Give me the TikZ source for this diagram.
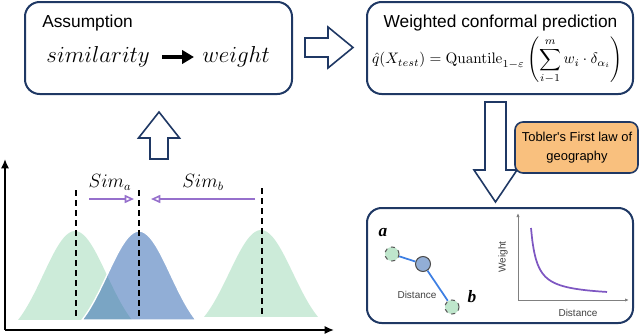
\documentclass[tikz,border=0pt]{standalone}
\usepackage[no-math]{fontspec}
\usepackage{amsmath}
\usepackage{graphicx}
\newfontfamily\arialf{Liberation Sans}
\newfontfamily\timesf{Liberation Serif}
\usetikzlibrary{arrows.meta}
\definecolor{navy}{HTML}{1F3864}
\definecolor{mint}{HTML}{CCEBD9}
\definecolor{bluehump}{HTML}{376CB4}
\definecolor{purp}{HTML}{9670CC}
\definecolor{curvep}{HTML}{7E57C2}
\definecolor{linkblue}{HTML}{3D7FE3}
\definecolor{nodeblue}{HTML}{92AED6}
\definecolor{nodegreen}{HTML}{BFE6CC}
\definecolor{tobler}{HTML}{F9C07E}
\definecolor{labgray}{HTML}{404040}
\begin{document}
\begin{tikzpicture}[x=0.75pt,y=-0.75pt,
  panel/.style={draw=navy, line width=1.5pt, rounded corners=11pt, inner sep=0pt},
  blockarrow/.style={draw=navy, fill=white, line width=1.2pt, line join=miter},
  titletext/.style={font=\arialf\fontsize{13}{15}\selectfont, inner sep=0pt},
  smalltext/.style={font=\arialf\fontsize{7.5}{9}\selectfont, text=labgray, inner sep=0pt},
  mathbig/.style={font=\fontsize{17}{20}\selectfont, inner sep=0pt},
  simtext/.style={font=\fontsize{13.5}{16}\selectfont, inner sep=0pt},
  vline/.style={draw=black, line width=1.5pt, dash pattern=on 4.5pt off 3pt},
  simarrow/.style={draw=purp, line width=1.2pt, -{Triangle[open, length=7pt, width=6pt]}},
  axis/.style={draw=black, line width=1.2pt, -{Latex[length=7pt, width=6pt]}},
  smallaxis/.style={draw=gray, line width=0.6pt, -{Latex[length=3pt, width=2.5pt]}},
  dot/.style={circle, inner sep=0pt, minimum size=10.5pt, line width=0.8pt},
  ablabel/.style={font=\timesf\bfseries\itshape\fontsize{13}{15}\selectfont, inner sep=0pt}
]
\useasboundingbox (0,0) rectangle (640,336);

% ---- top boxes ----
\node[panel, minimum width=200.25pt, minimum height=69pt] (assump) at (158.5,48) {};
\node[titletext, anchor=base west] (assumptitle) at (42,27) {Assumption};
\node[mathbig, anchor=base east] (simw) at (150,62) {$similarity$};
\node[mathbig, anchor=base west] (weightw) at (202,62) {$weight$};
\coordinate (sa) at (162,57);
\coordinate (sb) at (194,57);
\draw[line width=3pt, -{Triangle[length=9pt, width=10pt]}] (sa) -- (sb);

\node[panel, minimum width=199.5pt, minimum height=69pt] (wcp) at (500,48) {};
\node[titletext, anchor=base] (wcptitle) at (500.5,27) {Weighted conformal prediction};
\node[inner sep=0pt] (formula) at (497.5,61) {\resizebox{188pt}{!}{$\displaystyle \hat{q}(X_{test}) = \mathrm{Quantile}_{1-\varepsilon}\left(\sum_{i-1}^{m} w_i\cdot\delta_{\alpha_i}\right)$}};

% ---- block arrows ----
\draw[blockarrow] (305,38) -- (328,38) -- (328,27) -- (353,47.5) -- (328,68) -- (328,57) -- (305,57) -- cycle;
\draw[blockarrow] (150,159) -- (150,138) -- (138.5,138) -- (159,112) -- (179.5,138) -- (168,138) -- (168,159) -- cycle;
\draw[blockarrow] (485,102) -- (506,102) -- (506,170) -- (517,170) -- (495.5,202) -- (474,170) -- (485,170) -- cycle;

% ---- Tobler box ----
\node[draw=navy, fill=tobler, line width=1.2pt, rounded corners=6pt, minimum width=92.25pt, minimum height=38.25pt, inner sep=0pt] (toblerbox) at (576.5,147.5) {};
\node[font=\arialf\fontsize{9.7}{14.3}\selectfont, align=center, inner sep=0pt] (toblertext) at (577,147.5) {Tobler's First law of\\geography};

% ---- plot bottom-left ----
\fill[mint] plot[domain=-1:1, samples=41, smooth] ({75+57*\x},{320-89*(exp(-1.6*\x*\x)-0.2019)/0.7981}) -- cycle;
\fill[mint] plot[domain=-1:1, samples=41, smooth] ({261+57*\x},{317-87*(exp(-1.6*\x*\x)-0.2019)/0.7981}) -- cycle;
\filldraw[fill=bluehump, fill opacity=0.55, draw=white, line width=1pt] plot[domain=-1:1, samples=41, smooth] ({139+57*\x},{320-89*(exp(-1.6*\x*\x)-0.2019)/0.7981}) -- cycle;

\coordinate (d1t) at (76,190); \coordinate (d1b) at (76,320);
\coordinate (d2t) at (139,190); \coordinate (d2b) at (139,320);
\coordinate (d3t) at (262,188); \coordinate (d3b) at (262,316);
\draw[vline] (d1t) -- (d1b);
\draw[vline] (d2t) -- (d2b);
\draw[vline] (d3t) -- (d3b);

\coordinate (O) at (5,330);
\coordinate (Ytop) at (5,159);
\coordinate (Xend) at (334,330);
\draw[axis] (O) -- (Ytop);
\draw[axis] (O) -- (Xend);

\coordinate (saS) at (89,199); \coordinate (saE) at (134,199);
\coordinate (sbS) at (255,199); \coordinate (sbE) at (151,199);
\draw[simarrow] (saS) -- (saE);
\draw[simarrow] (sbS) -- (sbE);
\node[simtext] (simalabel) at (110,182) {$Sim_a$};
\node[simtext] (simblabel) at (203,182) {$Sim_b$};

% ---- bottom-right box ----
\node[panel, minimum width=199.5pt, minimum height=86.25pt] (tobpanel) at (500,265.5) {};
\node[dot, draw=gray!70!black, dashed, fill=nodegreen] (na) at (392,254) {};
\node[dot, draw=gray!60!black, fill=nodeblue, minimum size=11.25pt] (nc) at (423,264) {};
\node[dot, draw=gray!70!black, dashed, fill=nodegreen] (nb) at (452,307) {};
\draw[linkblue, line width=1.3pt] (na) -- (nc) -- (nb);
\node[ablabel] (alabel) at (383,233) {a};
\node[ablabel] (blabel) at (472,297) {b};
\node[smalltext] (distA) at (417,295) {Distance};

\coordinate (gO) at (518,300);
\coordinate (gY) at (518,213);
\coordinate (gX) at (629,300);
\draw[smallaxis] (gO) -- (gY);
\draw[smallaxis] (gO) -- (gX);
\draw[curvep, line width=1.3pt] plot[domain=531:607, samples=60, smooth] (\x,{297-414/(\x-525)});
\node[smalltext, rotate=90] (weightlab) at (503,257) {Weight};
\node[smalltext] (distB) at (578,313) {Distance};
\end{tikzpicture}
\end{document}
